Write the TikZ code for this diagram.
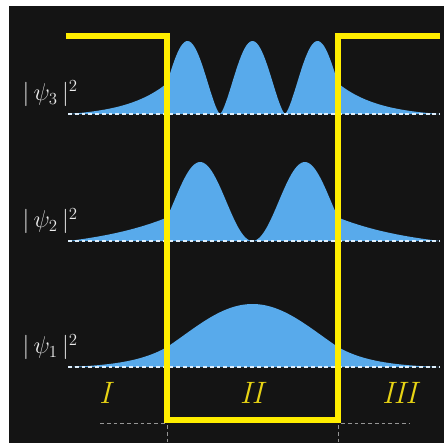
\documentclass[tikz,border=0pt]{standalone}
\usepackage{tikz}
\definecolor{bgdark}{RGB}{20,20,20}
\definecolor{wellyellow}{RGB}{255,238,0}
\definecolor{lblyellow}{RGB}{232,212,20}
\definecolor{psiblue}{RGB}{88,170,235}
\definecolor{dashgray}{RGB}{150,150,150}
\tikzset{
  well/.style={draw=wellyellow, line width=4.2pt, line join=miter},
  dens/.style={fill=psiblue},
  axisline/.style={draw=white!80!psiblue, line width=0.8pt, dash pattern=on 2.8pt off 2pt},
  guide/.style={draw=dashgray, line width=0.7pt, dash pattern=on 2.8pt off 2pt},
  psilbl/.style={text=white!92!black, font=\fontsize{17}{20}\selectfont, anchor=east, inner sep=0pt},
  region/.style={text=lblyellow, font=\fontsize{22}{26}\selectfont\itshape, inner sep=0pt}
}

\begin{document}
\begin{tikzpicture}[x=0.025cm, y=-0.025cm]
  \useasboundingbox (0,0) rectangle (444,443);
  \fill[white] (0,0) rectangle (444,443);
  \fill[bgdark] (9,6) rectangle (444,443);
  % densities: (cos^2)^p inside, decaying tails outside
  \foreach \n/\yb/\A/\kk/\ph/\kap/\pw in {3/114/73/2.769/0/0.024/0.72, 2/241/79/1.719/-90/0.012/1, 1/367/63/0.652/0/0.027/1} {
    \pgfmathsetmacro{\hw}{\A*(cos(\kk*85.5+\ph)*cos(\kk*85.5+\ph)+0.0001)^\pw}
    \pgfmathsetmacro{\eL}{exp(-\kap*99)}
    \pgfmathsetmacro{\eR}{exp(-\kap*102)}
    \fill[dens] (68,\yb)
      -- plot[domain=68:167, samples=40] (\x, {\yb-\hw*(exp(-\kap*(167-\x))-\eL)/(1-\eL)})
      -- plot[domain=167:338, samples=100] (\x, {\yb-\A*(cos(\kk*(\x-252.5)+\ph)*cos(\kk*(\x-252.5)+\ph)+0.0001)^\pw})
      -- plot[domain=338:440, samples=40] (\x, {\yb-\hw*(exp(-\kap*(\x-338))-\eR)/(1-\eR)})
      -- (440,\yb) -- cycle;
    \draw[axisline] (68,\yb) -- (440,\yb);
    \node[psilbl] (lbl\n) at (78,\yb-20) {$|\,\psi_{\n}\,|^{2}$};
  }
  % well
  \coordinate (tl) at (66,36);
  \coordinate (wl) at (167,36);
  \coordinate (bl) at (167,420);
  \coordinate (br) at (338,420);
  \coordinate (wr) at (338,36);
  \coordinate (tr) at (440,36);
  \draw[well] (tl) -- (wl) -- (bl) -- (br) -- (wr) -- (tr);
  % guides
  \draw[guide] (100,423) -- (165,423);
  \draw[guide] (341,423) -- (409,423);
  \draw[guide] (167,425) -- (167,443);
  \draw[guide] (338,425) -- (338,443);
  % regions
  \node[region] (rI) at (105,393) {I};
  \node[region] (rII) at (251.5,393) {II};
  \node[region] (rIII) at (399.5,393) {III};
\end{tikzpicture}
\end{document}
